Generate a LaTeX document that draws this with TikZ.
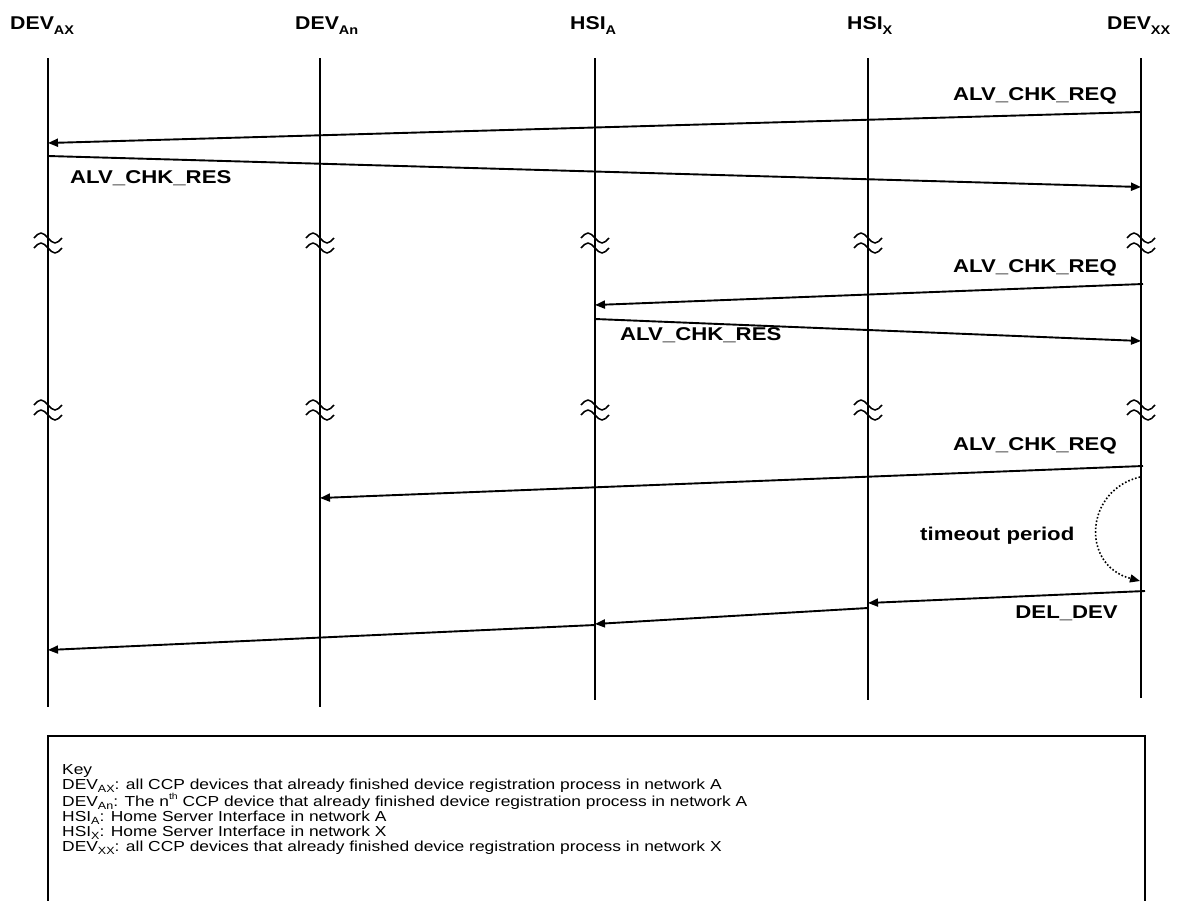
\documentclass[tikz,border=0pt]{standalone}
\usepackage{fontspec}
\setmainfont{Liberation Sans}[FakeStretch=1.15]
\newfontfamily\widefont{Liberation Sans}[FakeStretch=1.2]
\usetikzlibrary{arrows.meta}
\newcommand{\lsub}[1]{\raisebox{-0.28em}{\scalebox{0.68}{#1}}}
\newcommand{\ksub}[1]{\raisebox{-0.22em}{\scalebox{0.72}{#1}}}
\newcommand{\lsup}[1]{\raisebox{0.45em}{\scalebox{0.6}{#1}}}
\begin{document}
\begin{tikzpicture}[x=1pt,y=-1pt,
  life/.style={line width=1.4pt},
  msg/.style={line width=1.9pt,-{Triangle[length=10pt,width=8pt]}},
  hdr/.style={font=\fontsize{18.5}{22}\selectfont\bfseries,inner sep=0pt,anchor=base west},
  lblE/.style={font=\widefont\fontsize{18.5}{22}\selectfont\bfseries,inner sep=0pt,anchor=base east},
  lblW/.style={font=\widefont\fontsize{18.5}{22}\selectfont\bfseries,inner sep=0pt,anchor=base west},
  brk/.pic={\draw[line width=1.5pt] (-14,-5) sin (-7,-10) cos (0,-5) sin (7,0) cos (14,-5);
            \draw[line width=1.5pt] (-14,5) sin (-7,0) cos (0,5) sin (7,10) cos (14,5);}
]
\useasboundingbox (0,0) rectangle (1178,900);
% headers
\node[hdr] (hAX) at (10,29) {DEV\lsub{AX}};
\node[hdr] (hAn) at (295,29) {DEV\lsub{An}};
\node[hdr] (hHA) at (570,29) {HSI\lsub{A}};
\node[hdr] (hHX) at (847,29) {HSI\lsub{X}};
\node[hdr] (hXX) at (1107,29) {DEV\lsub{XX}};
% lifelines
\coordinate (tAX) at (48,58);   \coordinate (bAX) at (48,707);
\coordinate (tAn) at (320,58);  \coordinate (bAn) at (320,707);
\coordinate (tHA) at (595,58);  \coordinate (bHA) at (595,700);
\coordinate (tHX) at (868,58);  \coordinate (bHX) at (868,700);
\coordinate (tXX) at (1141,58); \coordinate (bXX) at (1141,698);
\foreach \n in {AX,An,HA,HX,XX} {\draw[life] (t\n) -- (b\n);}
% break marks
\foreach \xx in {48,320,595,868,1141} {
  \pic at (\xx,243) {brk};
  \pic at (\xx,410) {brk};
}
% message end points
\coordinate (m1s) at (1141,112); \coordinate (m1e) at (48,143);
\coordinate (m2s) at (48,156);   \coordinate (m2e) at (1141,187);
\coordinate (m3s) at (1143,284); \coordinate (m3e) at (595,305);
\coordinate (m4s) at (595,319);  \coordinate (m4e) at (1141,341);
\coordinate (m5s) at (1143,466); \coordinate (m5e) at (320,498);
\coordinate (m6s) at (1145,591); \coordinate (m6e) at (868,603);
\coordinate (m7s) at (868,608);  \coordinate (m7e) at (595,624);
\coordinate (m8s) at (595,625);  \coordinate (m8e) at (48,650);
\coordinate (ts) at (1140,477);  \coordinate (te) at (1140,581);
\draw[msg] (m1s) -- (m1e);
\draw[msg] (m2s) -- (m2e);
\draw[msg] (m3s) -- (m3e);
\draw[msg] (m4s) -- (m4e);
\draw[msg] (m5s) -- (m5e);
\draw[msg] (m6s) -- (m6e);
\draw[msg] (m7s) -- (m7e);
\draw[msg] (m8s) -- (m8e);
\draw[line width=1.6pt,dotted,-{Triangle[length=10pt,width=8pt]}] (ts) .. controls (1085,490) and (1080,565) .. (te);
% labels
\node[lblE] (l1) at (1117,100) {ALV\_CHK\_REQ};
\node[lblW] (l2) at (70,183) {ALV\_CHK\_RES};
\node[lblE] (l3) at (1117,272) {ALV\_CHK\_REQ};
\node[lblW] (l4) at (620,340) {ALV\_CHK\_RES};
\node[lblE] (l5) at (1117,450) {ALV\_CHK\_REQ};
\node[lblW] (l6) at (920,540) {timeout period};
\node[lblE] (l7) at (1118,618) {DEL\_DEV};
% key
\draw[line width=1.5pt] (48,905) -- (48,736) -- (1145,736) -- (1145,905);
\node[inner sep=0pt,anchor=north west,align=left,font=\widefont\fontsize{14.5}{15}\selectfont] (key) at (62,764) {Key\\
DEV\ksub{AX}: all CCP devices that already finished device registration process in network A\\
DEV\ksub{An}: The n\lsup{th} CCP device that already finished device registration process in network A\\
HSI\ksub{A}: Home Server Interface in network A\\
HSI\ksub{X}: Home Server Interface in network X\\
DEV\ksub{XX}: all CCP devices that already finished device registration process in network X};
\end{tikzpicture}
\end{document}
